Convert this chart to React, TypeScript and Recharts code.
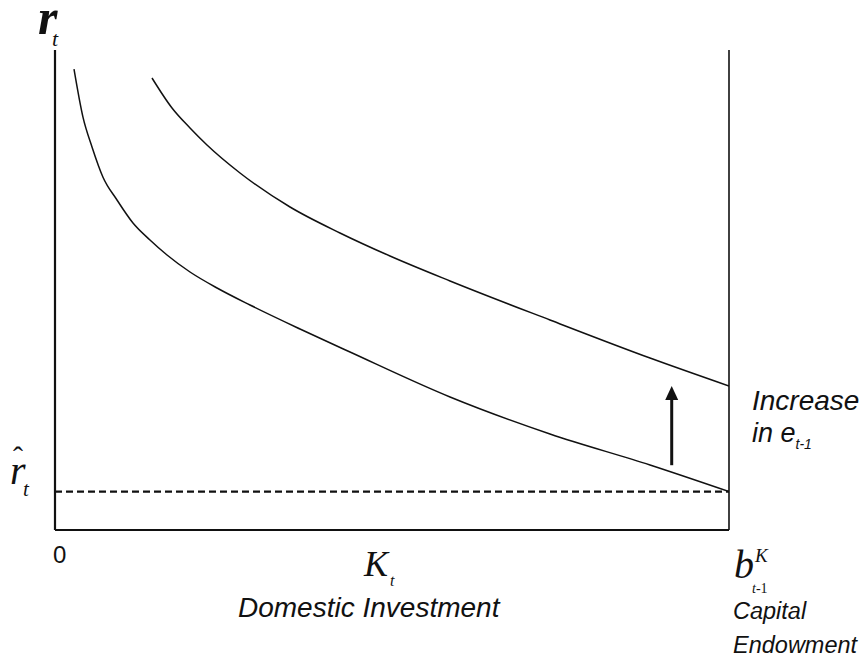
import React from 'react';
import { ComposedChart, Line, XAxis, YAxis, ReferenceLine, ReferenceDot } from 'recharts';

// Domestic investment K_t (0..100 = 0..b^K_{t-1}) and return r_t (0..100 scale)
const lowerK = [2.82, 4.15, 5.49, 7.12, 9.2, 11.57, 14.09, 16.62, 20.03, 24.04, 28.93, 36.35, 43.77, 58.61, 73.44, 88.28, 100];
const lowerR = [96.0, 86.0, 79.8, 73.5, 68.75, 63.96, 60.42, 57.29, 53.75, 50.42, 46.88, 41.88, 37.08, 27.71, 20.0, 13.54, 8];
const upperK = [14.39, 17.36, 20.03, 22.55, 27.45, 34.87, 42.28, 49.7, 58.61, 73.44, 88.28, 100];
const upperR = [94.17, 87.92, 83.75, 80.21, 74.38, 67.29, 61.88, 57.08, 51.88, 43.75, 35.83, 30];
const rHat = 8;
const endowment = 100;
const arrowK = 91.5;
const arrowFrom = 13.5;
const arrowTo = 30.0;

const lowerData = lowerK.map((k, i) => ({ k, r: lowerR[i] }));
const upperData = upperK.map((k, i) => ({ k, r: upperR[i] }));

const SERIF = '"Liberation Serif", "Times New Roman", serif';
const SANS = '"Liberation Sans", Arial, sans-serif';
const INK = '#111';

const ArrowHead = (props: any) => {
  const { cx, cy } = props;
  if (cx == null || cy == null) return null;
  return <polygon points={`${cx},${cy} ${cx - 6.5},${cy + 14} ${cx + 6.5},${cy + 14}`} fill={INK} />;
};

export default function App() {
  return (
    <div style={{ position: 'absolute', left: 0, top: 0, width: 865, height: 662, background: '#fff' }}>
      <ComposedChart width={865} height={662} margin={{ top: 50, right: 136, bottom: 132, left: 55 }}>
        <XAxis type="number" dataKey="k" domain={[0, 100]} hide allowDataOverflow />
        <YAxis type="number" dataKey="r" domain={[0, 100]} hide allowDataOverflow />
        <ReferenceLine segment={[{ x: 0, y: rHat }, { x: endowment, y: rHat }]} stroke={INK} strokeWidth={2.2} strokeDasharray="7 4" ifOverflow="visible" />
        <ReferenceLine segment={[{ x: 0, y: 0 }, { x: 0, y: 100 }]} stroke={INK} strokeWidth={2.2} ifOverflow="visible" />
        <ReferenceLine segment={[{ x: 0, y: 0 }, { x: endowment, y: 0 }]} stroke={INK} strokeWidth={2.2} ifOverflow="visible" />
        <ReferenceLine segment={[{ x: endowment, y: 0 }, { x: endowment, y: 100 }]} stroke={INK} strokeWidth={1.6} ifOverflow="visible" />
        <Line data={lowerData} dataKey="r" type="monotone" stroke={INK} strokeWidth={1.5} dot={false} isAnimationActive={false} />
        <Line data={upperData} dataKey="r" type="monotone" stroke={INK} strokeWidth={1.5} dot={false} isAnimationActive={false} />
        <ReferenceLine segment={[{ x: arrowK, y: arrowFrom }, { x: arrowK, y: arrowTo - 2 }]} stroke={INK} strokeWidth={3} ifOverflow="visible" />
        <ReferenceDot x={arrowK} y={arrowTo} r={0} shape={ArrowHead} ifOverflow="visible" />
      </ComposedChart>
      <svg width={865} height={662} style={{ position: 'absolute', left: 0, top: 0, pointerEvents: 'none' }}>
        <text x={38} y={34} fontFamily={SERIF} fontStyle="italic" fontWeight="bold" fontSize={50} fill={INK}>r</text>
        <text x={52} y={46} fontFamily={SERIF} fontStyle="italic" fontSize={22} fill={INK}>t</text>
        <text x={13} y={467} fontFamily={SERIF} fontSize={30} fill={INK}>ˆ</text>
        <text x={10} y={484} fontFamily={SERIF} fontStyle="italic" fontSize={40} fill={INK}>r</text>
        <text x={23} y={496} fontFamily={SERIF} fontStyle="italic" fontSize={21} fill={INK}>t</text>
        <text x={53} y={563} fontFamily={SANS} fontSize={24} fill={INK}>0</text>
        <text x={364} y={576} fontFamily={SERIF} fontStyle="italic" fontSize={36} fill={INK}>K</text>
        <text x={390} y={586} fontFamily={SERIF} fontStyle="italic" fontSize={16} fill={INK}>t</text>
        <text x={238} y={617} fontFamily={SANS} fontStyle="italic" fontSize={28} fill={INK}>Domestic Investment</text>
        <text x={734} y={578} fontFamily={SERIF} fontStyle="italic" fontSize={40} fill={INK}>b</text>
        <text x={755} y={562} fontFamily={SERIF} fontStyle="italic" fontSize={19} fill={INK}>K</text>
        <text x={752} y={593} fontFamily={SERIF} fontSize={14} fill={INK}><tspan fontStyle="italic">t</tspan>-1</text>
        <text x={733} y={619} fontFamily={SANS} fontStyle="italic" fontSize={23.5} fill={INK}>Capital</text>
        <text x={733} y={653} fontFamily={SANS} fontStyle="italic" fontSize={23.5} fill={INK}>Endowment</text>
        <text x={752} y={410} fontFamily={SANS} fontStyle="italic" fontSize={28} fill={INK}>Increase</text>
        <text x={752} y={442} fontFamily={SANS} fontStyle="italic" fontSize={27} fill={INK}>
          in e<tspan fontSize={14} dy={7}>t-1</tspan>
        </text>
      </svg>
    </div>
  );
}
